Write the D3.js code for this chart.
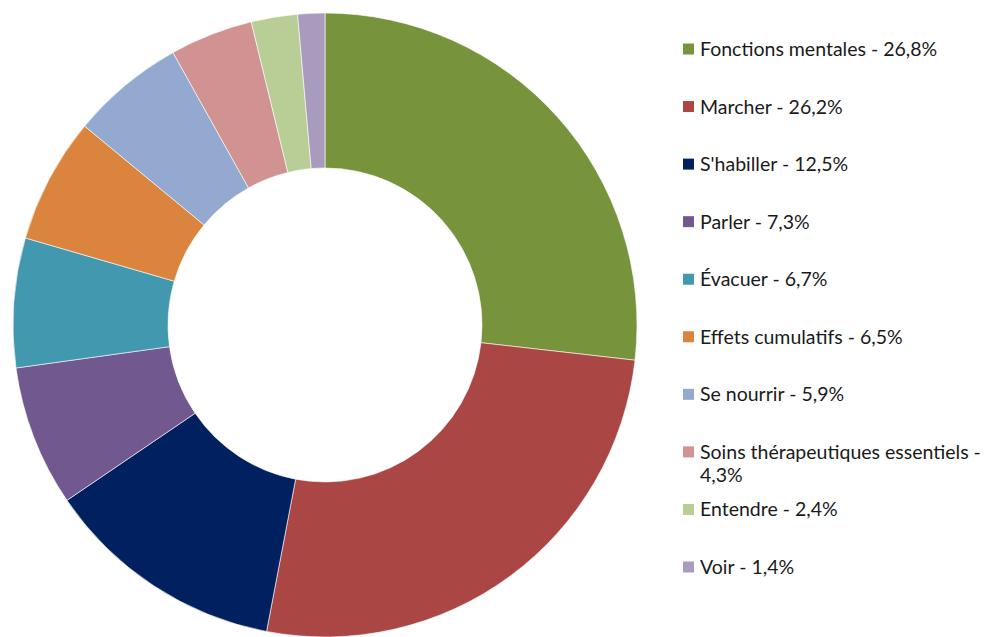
<!DOCTYPE html>
<html>
<head>
<meta charset="utf-8">
<script src="https://cdn.jsdelivr.net/npm/d3@7"></script>
<style>
  body { margin: 0; background: #fff; }
  svg { display: block; }
  text { font-family: Lato, "Noto Sans", sans-serif; fill: #1a1a1a; }
</style>
</head>
<body>
<svg id="chart"></svg>
<script>
let categories = ['Fonctions mentales', 'Marcher', "S'habiller", 'Parler', 'Évacuer',
    'Effets cumulatifs', 'Se nourrir', 'Soins thérapeutiques essentiels', 'Entendre', 'Voir'];
let values = [26.8, 26.2, 12.5, 7.3, 6.7, 6.5, 5.9, 4.3, 2.4, 1.4];
let colors = ['#77933C', '#AA4643', '#002060', '#71588F', '#4198AF',
    '#DB843D', '#93A9CF', '#D19392', '#B9CD96', '#A99BBD'];

let width = 985;
let height = 637;
let cx = 325, cy = 325;
let outerR = 312, innerR = 157;

let svg = d3.select('#chart')
    .attr('width', width)
    .attr('height', height);

let data = categories.map((c, i) => ({ name: c, value: values[i], color: colors[i] }));

let pie = d3.pie()
    .sort(null)
    .value(d => d.value);

let arc = d3.arc()
    .innerRadius(innerR)
    .outerRadius(outerR);

svg.append('g')
    .attr('transform', 'translate(' + cx + ',' + cy + ')')
    .selectAll('path')
    .data(pie(data))
    .enter()
    .append('path')
    .attr('d', arc)
    .attr('fill', d => d.data.color)
    .attr('stroke', '#fff')
    .attr('stroke-width', 0.6);

// legend
let fmt = v => d3.format('.1f')(v).replace('.', ',') + '%';
let legendY = d3.scalePoint()
    .domain(categories)
    .range([49, 567]);

let legend = svg.append('g');
let maxW = 290;

categories.forEach((c, i) => {
    let y = legendY(c);
    legend.append('rect')
        .attr('x', 683)
        .attr('y', y - 5.5)
        .attr('width', 11)
        .attr('height', 11)
        .attr('fill', colors[i]);

    let t = legend.append('text')
        .attr('x', 700)
        .attr('y', y)
        .attr('dy', '0.36em')
        .style('font-size', '19.5px');

    // simple word wrap, first line stays on the row
    let words = (c + ' - ' + fmt(values[i])).split(' ');
    let line = [];
    let tspan = t.append('tspan').attr('x', 700);
    words.forEach(w => {
        line.push(w);
        tspan.text(line.join(' '));
        if (tspan.node().getComputedTextLength() > maxW && line.length > 1) {
            line.pop();
            tspan.text(line.join(' '));
            line = [w];
            tspan = t.append('tspan').attr('x', 700).attr('dy', 23).text(w);
        }
    });
});
</script>
</body>
</html>
